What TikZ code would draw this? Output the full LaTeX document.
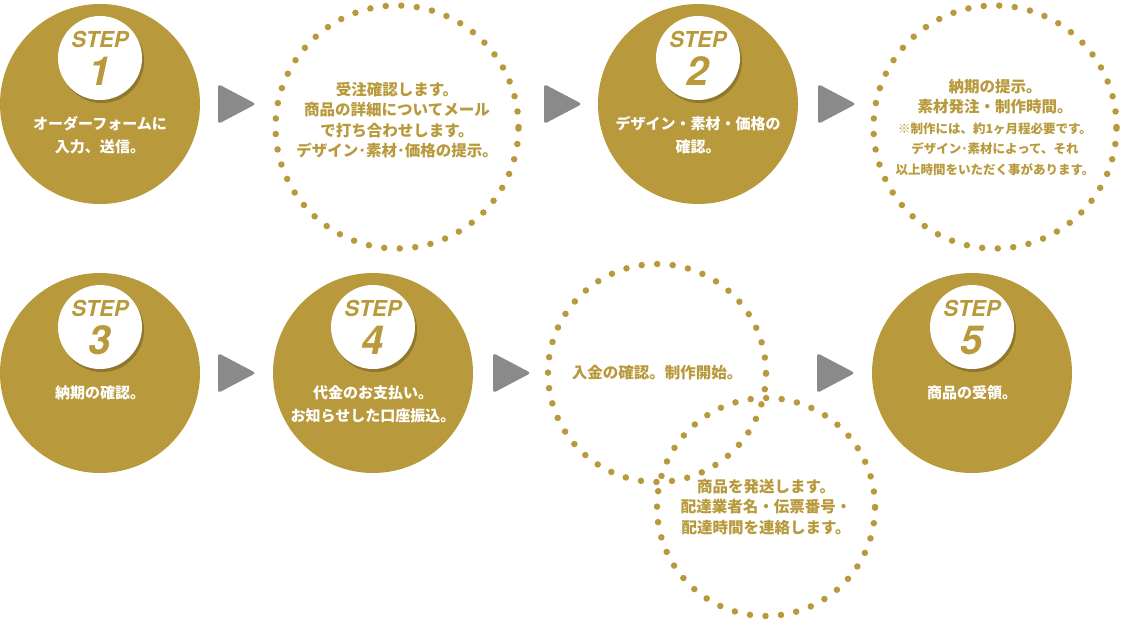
\documentclass[tikz,border=0pt]{standalone}
\usepackage{fontspec}
\newfontfamily\jpfont{Noto Sans CJK JP}
\newfontfamily\herosfont{TeX Gyre Heros}
\usepackage{tikz}
\usetikzlibrary{
  positioning,
  shadows,
  shapes.geometric
}
\definecolor{stepgold}{RGB}{184,153,59}
\definecolor{arrowgray}{RGB}{138,138,138}
\newcommand{\smallnote}{\fontsize{12.5}{20}\selectfont}
\tikzset{
  goldcirc/.style={circle,fill=stepgold,minimum size=200pt,
    inner sep=0pt,outer sep=0pt},
  dotcirc/.style={circle,draw=stepgold,line width=6.5pt,line cap=round,
    dash pattern=on 0pt off 15.55pt,minimum size=243pt,inner sep=0pt,outer sep=0pt},
  dotsmall/.style={dotcirc,minimum size=218pt,dash pattern=on 0pt off 15.55pt},
  badge/.style={circle,fill=white,minimum size=84pt,inner sep=0pt,outer sep=0pt,
    drop shadow={shadow xshift=2pt,shadow yshift=-3pt,opacity=.22,fill=black}},
  steplab/.style={font=\herosfont\bfseries\itshape\fontsize{22}{22}\selectfont,
    text=stepgold,inner sep=0pt},
  stepnum/.style={font=\herosfont\bfseries\itshape\fontsize{40}{40}\selectfont,
    text=stepgold,inner sep=0pt},
  whitetxt/.style={font=\jpfont\bfseries\fontsize{15}{23}\selectfont,
    text=white,align=center,inner sep=0pt},
  goldtxt/.style={font=\jpfont\bfseries\fontsize{15.5}{20.5}\selectfont,
    text=stepgold,align=center,inner sep=0pt},
  arrowtri/.style={isosceles triangle,isosceles triangle stretches,fill=arrowgray,
    rounded corners=3pt,minimum width=40pt,minimum height=38pt,
    inner sep=0pt,outer sep=0pt}
}

\begin{document}
\begin{tikzpicture}[x=1pt,y=-1pt]
  \useasboundingbox (0,0) rectangle (1123,623);
  % circles
  \node[goldcirc] (s1) at (100,104) {};
  \node[dotcirc] (d1) at (397,127) {};
  \node[goldcirc] (s2) at (698,104) {};
  \node[dotcirc] (d2) at (995,127) {};
  \node[goldcirc] (s3) at (100,373) {};
  \node[goldcirc] (s4) at (373,373) {};
  \node[dotsmall] (d3) at (657,373) {};
  \node[dotsmall] (d4) at (766,507) {};
  \node[goldcirc] (s5) at (972,373) {};
  % step badges
  \node[badge,above=4pt of s1.center] (b1) {};
  \node[badge,above=4pt of s2.center] (b2) {};
  \node[badge,above=4pt of s3.center] (b3) {};
  \node[badge,above=4pt of s4.center] (b4) {};
  \node[badge,above=4pt of s5.center] (b5) {};
  \node[steplab] (l1) at ([yshift=19pt]b1.center) {STEP};
  \node[stepnum] (n1) at ([yshift=-13pt]b1.center) {1};
  \node[steplab] (l2) at ([yshift=19pt]b2.center) {STEP};
  \node[stepnum] (n2) at ([yshift=-13pt]b2.center) {2};
  \node[steplab] (l3) at ([yshift=19pt]b3.center) {STEP};
  \node[stepnum] (n3) at ([yshift=-13pt]b3.center) {3};
  \node[steplab] (l4) at ([yshift=19pt]b4.center) {STEP};
  \node[stepnum] (n4) at ([yshift=-13pt]b4.center) {4};
  \node[steplab] (l5) at ([yshift=19pt]b5.center) {STEP};
  \node[stepnum] (n5) at ([yshift=-13pt]b5.center) {5};
  % texts
  \node[whitetxt,below=12pt of s1.center] (t1) {オーダーフォームに\\入力、送信。};
  \node[whitetxt,below=12pt of s2.center] (t2) {デザイン・素材・価格の\\確認。};
  \node[whitetxt,below=12pt of s3.center] (t3) {納期の確認。};
  \node[whitetxt,below=12pt of s4.center] (t4) {代金のお支払い。\\お知らせした口座振込。};
  \node[whitetxt,below=12pt of s5.center] (t5) {商品の受領。};
  \node[goldtxt] (t6) at ([yshift=7pt]d1.center) {受注確認します。\\商品の詳細についてメール\\で打ち合わせします。\\デザイン･素材･価格の提示。};
  \node[goldtxt] (t7) at (d2.center) {納期の提示。\\素材発注・制作時間。\\\smallnote ※制作には、約1ヶ月程必要です。\\\smallnote デザイン･素材によって、それ\\\smallnote 以上時間をいただく事があります。};
  \node[goldtxt] (t8) at (d3.center) {入金の確認。制作開始。};
  \node[goldtxt] (t9) at (d4.center) {商品を発送します。\\配達業者名・伝票番号・\\配達時間を連絡します。};
  % arrows
  \node[arrowtri,right=18pt of s1] (a1) {};
  \node[arrowtri,left=16pt of s2] (a2) {};
  \node[arrowtri,right=20pt of s2] (a3) {};
  \node[arrowtri,right=18pt of s3] (a4) {};
  \node[arrowtri,right=20pt of s4] (a5) {};
  \node[arrowtri,left=17pt of s5] (a6) {};
\end{tikzpicture}
\end{document}
